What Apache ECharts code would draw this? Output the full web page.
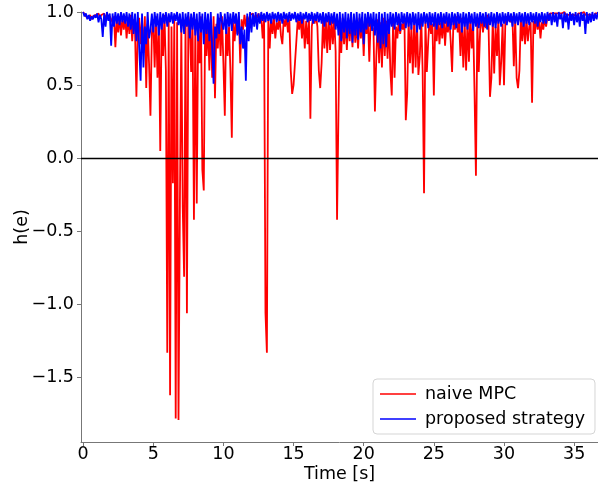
<!DOCTYPE html>
<html>
<head>
<meta charset="utf-8">
<script src="https://cdn.jsdelivr.net/npm/echarts@6/dist/echarts.min.js"></script>
<style>html,body{margin:0;padding:0;background:#fff}#c{width:598px;height:482px}</style>
</head>
<body>
<div id="c"></div>
<script>
// sampling step of the time series [s]
const dt = 0.1;
const xTicks = [0, 5, 10, 15, 20, 25, 30, 35];
const yTicks = [-1.5, -1.0, -0.5, 0.0, 0.5, 1.0];
const seriesNames = ['naive MPC', 'proposed strategy'];

// naive MPC, h(e) read every 0.1 s (one row = 1 s)
const naiveMPC = [
  1.0,0.99,0.97,0.98,0.96,0.98,0.95,0.97,0.96,0.98,
  0.97,0.99,0.96,0.98,0.97,0.99,0.96,0.98,0.99,0.97,
  0.98,0.93,0.97,0.76,0.95,0.86,0.97,0.84,0.96,0.88,
  0.97,0.82,0.96,0.85,0.98,0.80,0.95,0.87,0.42,0.9,
  0.96,0.78,0.95,0.72,0.97,0.48,0.92,0.65,0.29,0.85,
  0.95,0.62,0.97,0.55,0.9,0.05,0.96,0.7,0.98,0.6,
  -1.33,0.95,-1.62,0.9,-0.17,0.96,-1.78,0.93,-1.79,-0.30,
  0.9,-0.33,-0.81,0.95,-1.06,0.97,0.92,0.59,0.96,-0.42,
  0.95,-0.31,0.9,0.65,0.97,-0.08,-0.22,0.96,0.7,0.93,
  0.6,0.95,0.55,0.97,0.41,0.92,0.75,0.96,0.7,0.97,
  0.65,0.29,0.95,0.7,0.9,0.6,0.14,0.93,0.8,0.96,
  0.85,0.97,0.65,0.95,0.88,0.98,0.9,0.97,0.93,0.98,
  0.97,0.99,0.95,0.98,0.96,0.99,0.93,0.97,0.82,0.95,
  -1.06,-1.33,0.95,0.75,0.97,0.85,0.96,0.82,0.93,0.88,
  0.97,0.84,0.78,0.95,0.9,0.97,0.86,0.95,0.6,0.44,
  0.5,0.65,0.8,0.95,0.88,0.97,0.82,0.96,0.75,0.94,
  0.78,0.95,0.27,0.9,0.97,0.92,0.98,0.9,0.6,0.48,
  0.65,0.95,0.75,0.96,0.72,0.97,0.74,0.95,0.78,0.96,
  0.73,-0.42,0.31,0.95,0.72,0.96,0.78,0.94,0.74,0.96,
  0.8,0.95,0.76,0.97,0.79,0.93,0.75,0.96,0.82,0.94,
  0.7,0.96,0.85,0.97,0.66,0.95,0.9,0.88,0.32,0.7,
  0.95,0.65,0.93,0.62,0.96,0.7,0.94,0.68,0.95,0.6,
  0.43,0.96,0.55,0.9,0.82,0.95,0.85,0.92,0.88,0.97,
  0.26,0.44,0.95,0.65,0.9,0.58,0.96,0.62,0.93,0.57,
  0.7,0.96,0.6,-0.24,0.95,0.59,0.8,0.97,0.85,0.92,
  0.43,0.95,0.8,0.96,0.78,0.93,0.82,0.97,0.77,0.94,
  0.86,0.96,0.8,0.59,0.95,0.88,0.97,0.86,0.93,0.7,
  0.96,0.62,0.92,0.6,0.95,0.66,0.97,0.75,0.93,0.45,
  -0.12,0.95,0.59,0.88,0.97,0.86,0.95,0.89,0.98,0.9,
  0.42,0.55,0.95,0.58,0.9,0.7,0.96,0.5,0.66,0.92,
  0.5,0.95,0.97,0.94,0.96,0.93,0.97,0.63,0.96,0.55,
  0.48,0.6,0.97,0.8,0.95,0.78,0.96,0.8,0.9,0.93,
  0.38,0.94,0.85,0.97,0.88,0.95,0.82,0.93,0.88,0.96,
  0.9,0.97,0.98,0.99,0.98,0.99,0.98,0.99,0.98,0.99,
  0.98,0.99,0.98,1.0,0.98,0.99,0.98,0.99,0.98,0.99,
  0.98,0.99,0.97,0.99,0.98,0.99,0.98,1.0,0.98,0.99,
  0.98,0.99,0.98,0.99,0.97,0.99,0.98,0.99
];

// proposed strategy, h(e) read every 0.1 s (one row = 1 s)
const proposed = [
  1.0,0.97,0.99,0.95,0.98,0.94,0.97,0.95,0.98,0.96,
  0.99,0.93,0.98,0.95,0.83,0.99,0.9,1.0,0.94,0.99,
  0.77,0.99,0.9,1.0,0.92,0.99,0.91,1.0,0.93,0.99,
  0.92,1.0,0.9,0.99,0.88,1.0,0.85,0.99,0.8,1.0,
  0.75,0.53,0.99,0.62,0.9,0.78,1.0,0.82,0.88,0.99,
  0.86,1.0,0.9,0.99,0.84,1.0,0.88,0.99,0.92,1.0,
  0.9,0.99,0.93,1.0,0.92,0.99,0.94,1.0,0.91,0.99,
  0.86,1.0,0.85,0.99,0.9,1.0,0.82,0.99,0.88,1.0,
  0.84,0.99,0.8,1.0,0.86,0.99,0.78,1.0,0.85,0.99,
  0.8,1.0,0.75,0.51,0.9,0.82,0.99,0.85,1.0,0.93,
  0.88,0.99,0.85,1.0,0.9,0.99,0.87,1.0,0.92,0.99,
  0.84,1.0,0.78,0.9,0.75,0.88,0.53,0.99,0.8,1.0,
  0.86,0.99,0.9,1.0,0.88,0.99,0.92,1.0,0.94,0.99,
  0.93,1.0,0.94,0.99,0.92,1.0,0.95,0.99,0.93,1.0,
  0.94,0.99,0.92,1.0,0.95,0.99,0.93,1.0,0.94,0.99,
  0.95,1.0,0.93,0.99,0.94,1.0,0.92,0.99,0.95,1.0,
  0.93,0.99,0.94,1.0,0.92,0.99,0.94,1.0,0.93,0.99,
  0.92,1.0,0.9,0.99,0.93,1.0,0.91,0.99,0.92,1.0,
  0.88,0.99,0.84,1.0,0.8,0.99,0.86,1.0,0.82,0.99,
  0.85,1.0,0.79,0.99,0.84,1.0,0.81,0.99,0.86,1.0,
  0.78,0.99,0.88,1.0,0.9,0.99,0.87,1.0,0.84,0.99,
  0.79,1.0,0.75,0.99,0.78,1.0,0.76,0.99,0.85,1.0,
  0.9,0.99,0.88,1.0,0.91,0.99,0.87,1.0,0.92,0.99,
  0.89,1.0,0.9,0.99,0.88,1.0,0.91,0.99,0.86,1.0,
  0.88,0.99,0.9,1.0,0.92,0.99,0.89,1.0,0.91,0.99,
  0.9,1.0,0.88,0.99,0.91,1.0,0.89,0.99,0.92,1.0,
  0.9,0.99,0.88,1.0,0.91,0.99,0.89,1.0,0.92,0.99,
  0.86,1.0,0.9,0.99,0.88,1.0,0.92,0.99,0.87,1.0,
  0.9,0.99,0.89,1.0,0.92,0.99,0.9,1.0,0.88,0.99,
  0.91,1.0,0.9,0.99,0.89,1.0,0.92,0.99,0.9,1.0,
  0.92,0.99,0.91,1.0,0.93,0.99,0.9,1.0,0.92,0.99,
  0.91,1.0,0.93,0.99,0.9,1.0,0.92,0.99,0.91,1.0,
  0.93,0.99,0.92,1.0,0.9,0.99,0.93,1.0,0.92,0.99,
  0.92,1.0,0.94,0.99,0.91,1.0,0.93,0.99,0.9,1.0,
  0.95,0.99,0.89,1.0,0.93,0.99,0.88,1.0,0.94,0.99,
  0.91,1.0,0.93,0.99,0.9,1.0,0.94,0.99,0.85,1.0,
  0.92,0.99,0.93,1.0,0.94,0.99,0.95,1.0
];

const pairs = arr => arr.map((v, i) => [+(i * dt).toFixed(2), v]);
const fmt = v => (v < 0 ? '\u2212' : '') + Math.abs(v).toFixed(1);
const FONT = 'DejaVu Sans';
const FS = 17.5;

const chart = echarts.init(document.getElementById('c'), null, {renderer: 'canvas'});
chart.setOption({
  animation: false,
  backgroundColor: '#fff',
  grid: {left: 81, right: 0, top: 12, bottom: 40, containLabel: false, outerBoundsMode: 'none'},
  xAxis: {
    type: 'value', min: -0.15, max: 36.7,
    name: 'Time [s]', nameLocation: 'middle', nameGap: 23, nameMoveOverlap: false,
    nameTextStyle: {fontFamily: FONT, fontSize: FS, color: '#000'},
    axisLine: {show: true, onZero: false, lineStyle: {color: '#777', width: 1}},
    axisTick: {show: true, length: 4, customValues: xTicks, lineStyle: {color: '#777'}},
    axisLabel: {customValues: xTicks, margin: 3, fontFamily: FONT, fontSize: FS, color: '#000',
      formatter: v => String(v)},
    splitLine: {show: false}
  },
  yAxis: {
    type: 'value', min: -1.94, max: 1.0,
    name: 'h(e)', nameLocation: 'middle', nameGap: 50, nameMoveOverlap: false,
    nameTextStyle: {fontFamily: FONT, fontSize: FS, color: '#000'},
    axisLine: {show: true, onZero: false, lineStyle: {color: '#777', width: 1}},
    axisTick: {show: true, length: 4, customValues: yTicks, lineStyle: {color: '#777'}},
    axisLabel: {customValues: yTicks, margin: 7, fontFamily: FONT, fontSize: FS, color: '#000',
      formatter: fmt},
    splitLine: {show: false}
  },
  legend: {
    orient: 'vertical', left: 373, top: 379,
    padding: [6, 10, 6, 7], itemGap: 7,
    itemWidth: 36, itemHeight: 2,
    borderColor: '#d5d5d5', borderWidth: 1, borderRadius: 4,
    backgroundColor: 'rgba(255,255,255,0.85)',
    textStyle: {fontFamily: FONT, fontSize: FS, color: '#000', padding: [0, 0, 0, 4]},
    data: [
      {name: seriesNames[0], icon: 'rect', itemStyle: {color: '#ff4040'}},
      {name: seriesNames[1], icon: 'rect', itemStyle: {color: '#4040ff'}}
    ]
  },
  series: [
    {
      name: seriesNames[0], type: 'line', data: pairs(naiveMPC),
      showSymbol: false, symbol: 'none',
      lineStyle: {color: '#ff0000', width: 1.8}, itemStyle: {color: '#ff0000'},
      z: 2
    },
    {
      name: seriesNames[1], type: 'line', data: pairs(proposed),
      showSymbol: false, symbol: 'none',
      lineStyle: {color: '#0000ff', width: 1.8}, itemStyle: {color: '#0000ff'},
      z: 3,
      markLine: {
        silent: true, symbol: 'none', label: {show: false},
        lineStyle: {color: '#000', width: 1.3, type: 'solid'},
        data: [{yAxis: 0}], z: 4
      }
    }
  ]
});
</script>
</body>
</html>
